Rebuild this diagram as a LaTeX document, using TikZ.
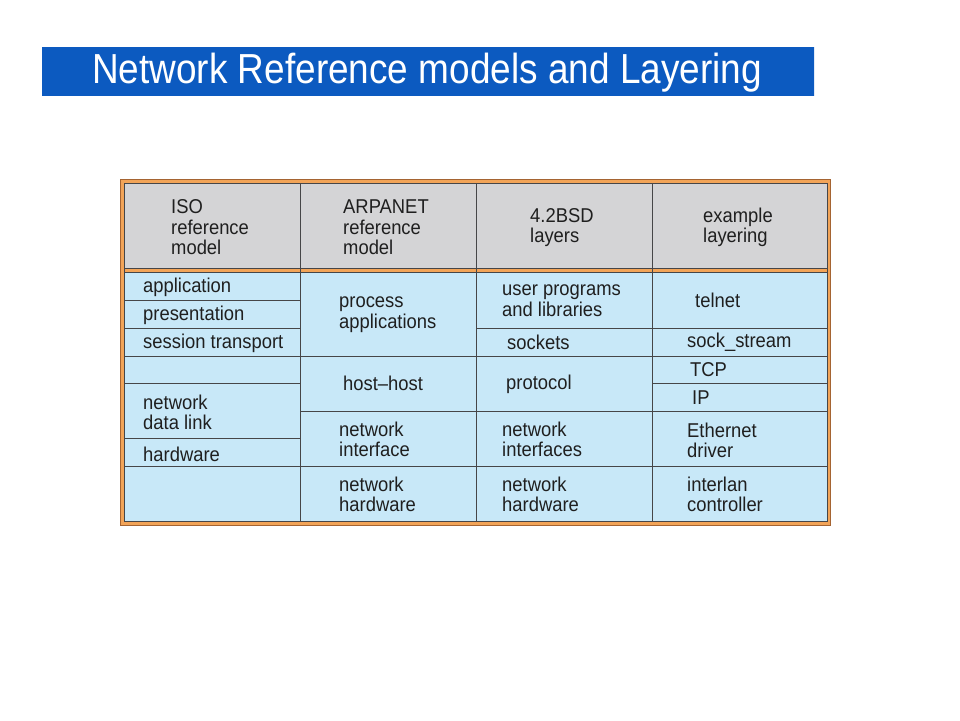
\documentclass[tikz,border=0pt]{standalone}
\usepackage{fontspec}
\setmainfont[FakeStretch=0.92]{Liberation Sans}
\newfontfamily\titlefont[FakeStretch=0.88]{Liberation Sans}
\usepackage{tikz}

\definecolor{slideblue}{RGB}{12,90,192}
\definecolor{slidebright}{RGB}{22,104,228}
\definecolor{headgray}{RGB}{212,212,214}
\definecolor{cellblue}{RGB}{200,232,248}
\definecolor{rulegray}{RGB}{70,70,72}
\definecolor{frameorange}{RGB}{242,164,88}
\definecolor{framebrown}{RGB}{165,100,50}

\tikzset{
	cell/.style = {anchor = west, align = left, inner sep = 0pt, yshift = -1.5pt,
		font = \fontsize{20}{20.5}\selectfont, text = black!88},
	grid/.style = {color = rulegray, line width = 0.9pt}
}

\begin{document}
\begin{tikzpicture}[x = 1pt, y = -1pt]
\useasboundingbox (0, 0) rectangle (960, 720);

\fill[left color = slideblue, middle color = slidebright, right color = slideblue]
	(42, 47) rectangle (814, 95);
\node[anchor = west, inner sep = 0pt, text = white,
		font = \titlefont\fontsize{42}{42}\selectfont]
	(title) at (92, 73) {Network Reference models and Layering};

\fill[color = frameorange] (120, 179) rectangle (830, 525);
\draw[color = framebrown, line width = 1pt] (120, 179) rectangle (830, 525);

\fill[color = headgray] (124, 183) rectangle (827, 268);
\fill[color = cellblue] (124, 272) rectangle (827, 521);

\draw[grid] (124, 183) rectangle (827, 521);
\draw[grid] (124, 268) -- (827, 268);
\draw[grid] (124, 272) -- (827, 272);

\foreach \x in {300, 476, 652}
	\draw[grid] (\x, 183) -- (\x, 521);

\draw[grid] (124, 300) -- (300, 300);
\draw[grid] (124, 328) -- (300, 328);
\draw[grid] (476, 328) -- (827, 328);
\draw[grid] (124, 356) -- (827, 356);
\draw[grid] (124, 383) -- (300, 383);
\draw[grid] (652, 383) -- (827, 383);
\draw[grid] (300, 411) -- (827, 411);
\draw[grid] (124, 438) -- (300, 438);
\draw[grid] (124, 466) -- (827, 466);

\node[cell] (isohead) at (171, 226) {ISO\\reference\\model};
\node[cell] (arpahead) at (343, 226) {ARPANET\\reference\\model};
\node[cell] (bsdhead) at (530, 226) {4.2BSD\\layers};
\node[cell] (examplehead) at (703, 226) {example\\layering};

\node[cell] (application) at (143, 286) {application};
\node[cell] (presentation) at (143, 314) {presentation};
\node[cell] (session) at (143, 342) {session transport};
\node[cell] (datalink) at (143, 411) {network\\data link};
\node[cell] (isohw) at (143, 453) {hardware};

\node[cell] (process) at (339, 313) {process\\applications};
\node[cell] (hosthost) at (343, 382) {host--host};
\node[cell] (arpaif) at (339, 438) {network\\interface};
\node[cell] (arpahw) at (339, 493) {network\\hardware};

\node[cell] (userprog) at (502, 299) {user programs\\and libraries};
\node[cell] (sockets) at (507, 341) {sockets};
\node[cell] (protocol) at (506, 383) {protocol};
\node[cell] (bsdif) at (502, 438) {network\\interfaces};
\node[cell] (bsdhw) at (502, 493) {network\\hardware};

\node[cell] (telnet) at (695, 299) {telnet};
\node[cell] (sockstream) at (687, 341) {sock\_stream};
\node[cell] (tcp) at (690, 368) {TCP};
\node[cell] (ip) at (692, 396) {IP};
\node[cell] (ethernet) at (687, 439) {Ethernet\\driver};
\node[cell] (interlan) at (687, 493) {interlan\\controller};
\end{tikzpicture}
\end{document}
